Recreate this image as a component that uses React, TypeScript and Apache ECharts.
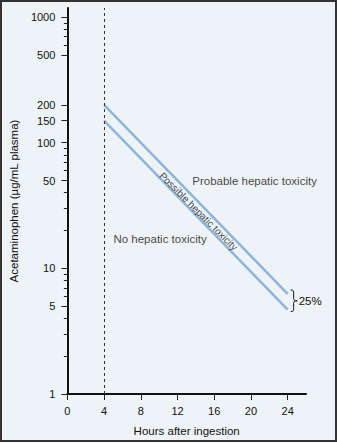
import React, { useEffect, useRef } from 'react';
import * as echarts from 'echarts';

// ---- data ----
const hours = [4, 24];
const probableThreshold = [200, 6.25];
const possibleThreshold = [150, 4.69];
const xTickValues = [0, 4, 8, 12, 16, 20, 24];
const yMajorTicks = [1, 5, 10, 50, 100, 150, 200, 500, 1000];
const yMinorTicks = [2, 3, 4, 6, 7, 8, 9, 20, 30, 40, 60, 70, 80, 90, 600, 700, 800, 900];
const regionLabels = ['Probable hepatic toxicity', 'Possible hepatic toxicity', 'No hepatic toxicity'];
const regionLabelHours = [20.4, 14.3, 10.1];
const regionLabelLevels = [49.5, 28.4, 17.1];
const regionLabelAngles = [0, -45, 0];
const regionLabelSizes = [11.5, 10, 11.5];
const spreadLabel = '25%';
const ingestionMarkHour = 4;
const yMaxLevel = 1180;
const xMax = 26;

const log = (v: number) => Math.log10(v);
const FONT = '"Liberation Sans", Arial, Helvetica, sans-serif';
const INK = '#111111';
const LINE_BLUE = '#8DB5D9';

const BRACE_D =
  'M0,0 C3,0 3,1 3,4 L3,8.5 C3,10.5 4,11 6.5,11 C4,11 3,11.5 3,13.5 L3,18 C3,21 3,22 0,22';
echarts.graphic.registerShape('brace', echarts.graphic.extendPath(BRACE_D, {}) as any);

export default function App() {
  const ref = useRef<HTMLDivElement>(null);

  useEffect(() => {
    document.body.style.margin = '0';
    if (!ref.current) return;
    const chart = echarts.init(ref.current, null, { renderer: 'svg' });

    const option: any = {
      animation: false,
      backgroundColor: '#EEF3F8',
      textStyle: { fontFamily: FONT },
      grid: { left: 63, right: 31, top: 8, bottom: 49 },
      xAxis: {
        type: 'value',
        min: 0,
        max: xMax,
        name: 'Hours after ingestion',
        nameLocation: 'middle',
        nameGap: 31,
        nameTextStyle: { fontSize: 11.5, color: INK, fontFamily: FONT },
        axisLine: { show: true, onZero: false, lineStyle: { color: INK, width: 2 } },
        axisTick: { show: true, customValues: xTickValues, length: 6, lineStyle: { color: '#222', width: 1 } },
        axisLabel: { customValues: xTickValues, margin: 11, fontSize: 11, color: INK, fontFamily: FONT },
        splitLine: { show: false },
      },
      yAxis: [
        {
          type: 'value',
          min: 0,
          max: log(yMaxLevel),
          name: 'Acetaminophen (µg/mL plasma)',
          nameLocation: 'middle',
          nameGap: 43,
          nameRotate: 90,
          nameTextStyle: { fontSize: 11.5, color: INK, fontFamily: FONT },
          axisLine: { show: true, onZero: false, lineStyle: { color: INK, width: 2 } },
          axisTick: {
            show: true,
            customValues: yMajorTicks.map(log),
            length: 6,
            lineStyle: { color: '#222', width: 1 },
          },
          axisLabel: {
            customValues: yMajorTicks.map(log),
            formatter: (v: number) => String(Math.round(Math.pow(10, v))),
            margin: 12,
            fontSize: 11,
            color: INK,
            fontFamily: FONT,
          },
          splitLine: { show: false },
        },
        {
          type: 'value',
          min: 0,
          max: log(yMaxLevel),
          position: 'left',
          offset: 0,
          axisLine: { show: false, onZero: false },
          axisTick: {
            show: true,
            customValues: yMinorTicks.map(log),
            length: 3.5,
            lineStyle: { color: '#222', width: 1 },
          },
          axisLabel: { show: false },
          splitLine: { show: false },
        },
      ],
      series: [
        {
          type: 'line',
          name: 'probable',
          data: hours.map((h, i) => [h, log(probableThreshold[i])]),
          symbol: 'none',
          lineStyle: { color: LINE_BLUE, width: 2.5 },
          z: 3,
          markLine: {
            silent: true,
            symbol: ['none', 'none'],
            label: { show: false },
            lineStyle: { color: '#333', width: 1, type: [3, 3] },
            data: [{ xAxis: ingestionMarkHour }],
          },
        },
        {
          type: 'line',
          name: 'possible',
          data: hours.map((h, i) => [h, log(possibleThreshold[i])]),
          symbol: 'none',
          lineStyle: { color: LINE_BLUE, width: 2.5 },
          z: 3,
        },
        {
          type: 'scatter',
          name: 'regions',
          symbolSize: 0,
          z: 5,
          data: regionLabels.map((name, i) => ({
            name,
            value: [regionLabelHours[i], log(regionLabelLevels[i])],
            label: { rotate: regionLabelAngles[i], fontSize: regionLabelSizes[i] },
          })),
          label: {
            show: true,
            position: 'inside',
            formatter: (p: any) => p.name,
            color: INK,
            fontFamily: FONT,
            textBorderWidth: 0,
            textBorderColor: 'transparent',
          },
        },
      ],
    };
    chart.setOption(option);

    const pTop = chart.convertToPixel({ xAxisIndex: 0, yAxisIndex: 0 }, [hours[1], log(probableThreshold[1])]) as number[];
    const pBot = chart.convertToPixel({ xAxisIndex: 0, yAxisIndex: 0 }, [hours[1], log(possibleThreshold[1])]) as number[];
    const braceTop = pTop[1] - 4;
    const braceBot = pBot[1] + 2;
    const mid = (braceTop + braceBot) / 2;

    chart.setOption({
      graphic: [
        {
          type: 'brace',
          x: pTop[0] + 3,
          y: braceTop,
          scaleY: (braceBot - braceTop) / 22,
          silent: true,
          style: { stroke: INK, fill: 'none', lineWidth: 1 },
        },
        {
          type: 'text',
          x: pTop[0] + 11,
          y: mid,
          silent: true,
          style: {
            text: spreadLabel,
            fontSize: 11.5,
            fontFamily: FONT,
            fill: INK,
            verticalAlign: 'middle',
            align: 'left',
          },
        },
        {
          type: 'rect',
          silent: true,
          shape: { x: 1, y: 1, width: 335, height: 440 },
          style: { fill: 'none', stroke: '#333', lineWidth: 2 },
          z: 100,
        },
      ],
    });

    return () => chart.dispose();
  }, []);

  return <div ref={ref} style={{ width: 337, height: 443 }} />;
}
